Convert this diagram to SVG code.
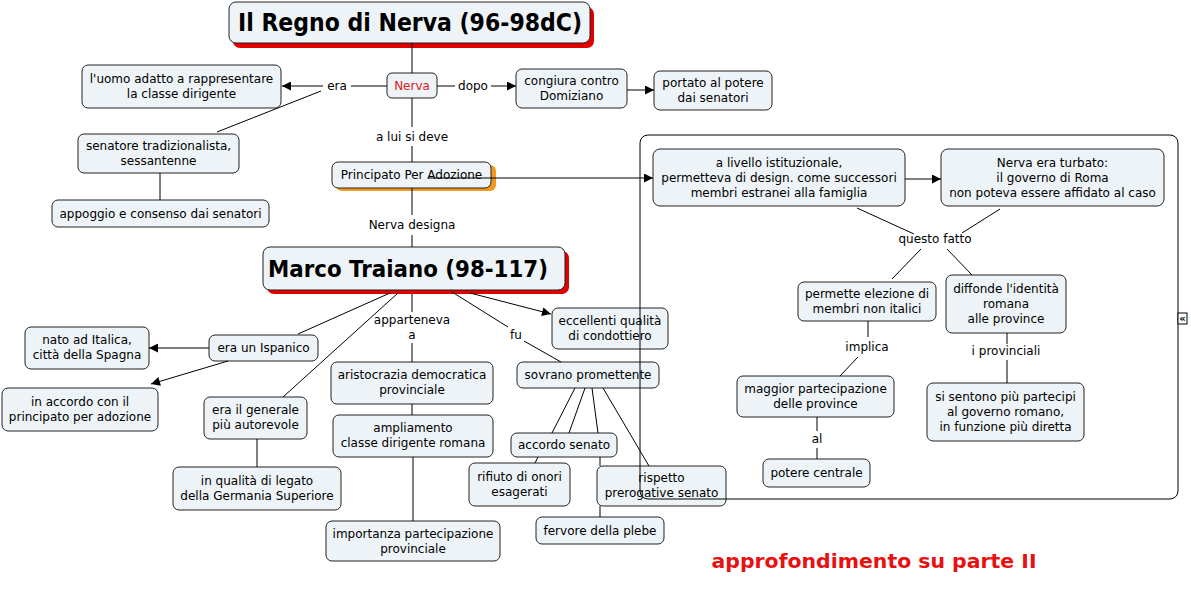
<svg xmlns="http://www.w3.org/2000/svg" width="1191" height="589" viewBox="0 0 1191 589">
<style>
.n{fill:#edf3f6;stroke:#222;stroke-width:1}
.t{font-family:"DejaVu Sans",Verdana,sans-serif;font-size:12px;fill:#000;text-anchor:middle}
.l{font-family:"DejaVu Sans",Verdana,sans-serif;font-size:12px;fill:#000;text-anchor:middle}
.c line,.c path{stroke:#000;stroke-width:1;fill:none}
.a{marker-end:url(#arr)}
.big{font-family:"DejaVu Sans",sans-serif;font-weight:bold;fill:#000;text-anchor:middle}
</style>
<defs>
<marker id="arr" viewBox="0 0 10 10" refX="10" refY="5" markerWidth="12" markerHeight="9" markerUnits="userSpaceOnUse" orient="auto"><path d="M0,0 L10,5 L0,10 z" fill="#000"/></marker>
</defs>
<rect width="1191" height="589" fill="#fff"/>

<g id="title">
<rect x="233" y="7" width="361" height="41" rx="7" fill="#e00000"/>
<rect class="n" x="229" y="2" width="361" height="41" rx="7"/>
<text class="big" x="410" y="31" font-size="25" textLength="344" lengthAdjust="spacingAndGlyphs">Il Regno di Nerva (96-98dC)</text>
</g>
<g id="nerva">
<rect class="n" x="387" y="73" width="50" height="25" rx="5"/>
<text class="t" x="412" y="90" style="fill:#e02020">Nerva</text>
</g>
<g id="uomo">
<rect class="n" x="82" y="65" width="199" height="43" rx="6"/>
<text class="t" x="181.5" y="83">l'uomo adatto a rappresentare</text>
<text class="t" x="181.5" y="98">la classe dirigente</text>
</g>
<g id="senatore">
<rect class="n" x="78" y="134" width="161" height="39" rx="6"/>
<text class="t" x="158.5" y="150">senatore tradizionalista,</text>
<text class="t" x="158.5" y="165">sessantenne</text>
</g>
<g id="appoggio">
<rect class="n" x="52" y="200" width="217" height="27" rx="6"/>
<text class="t" x="160.5" y="218">appoggio e consenso dai senatori</text>
</g>
<g id="congiura">
<rect class="n" x="516" y="69" width="111" height="39" rx="6"/>
<text class="t" x="571.5" y="85">congiura contro</text>
<text class="t" x="571.5" y="100">Domiziano</text>
</g>
<g id="portato">
<rect class="n" x="654" y="71" width="118" height="39" rx="6"/>
<text class="t" x="713" y="87">portato al potere</text>
<text class="t" x="713" y="102">dai senatori</text>
</g>
<g id="principato">
<rect x="336" y="165" width="160" height="26" rx="6" fill="#f39a1e"/>
<rect class="n" x="332" y="162" width="159" height="26" rx="6"/>
<text class="t" x="411.5" y="179">Principato Per Adozione</text>
</g>
<g id="traiano">
<rect x="267" y="251" width="302" height="43" rx="7" fill="#e00000"/>
<rect class="n" x="263" y="247" width="302" height="43" rx="7"/>
<text class="big" x="408" y="277" font-size="23" textLength="280" lengthAdjust="spacingAndGlyphs">Marco Traiano (98-117)</text>
</g>
<g id="livello">
<rect class="n" x="653" y="149" width="252" height="57" rx="7"/>
<text class="t" x="779" y="167">a livello istituzionale,</text>
<text class="t" x="779" y="182">permetteva di design. come successori</text>
<text class="t" x="779" y="197">membri estranei alla famiglia</text>
</g>
<g id="turbato">
<rect class="n" x="941" y="149" width="223" height="57" rx="7"/>
<text class="t" x="1052.5" y="167">Nerva era turbato:</text>
<text class="t" x="1052.5" y="182">il governo di Roma</text>
<text class="t" x="1052.5" y="197">non poteva essere affidato al caso</text>
</g>
<g id="permette">
<rect class="n" x="798" y="282" width="138" height="39" rx="6"/>
<text class="t" x="867" y="298">permette elezione di</text>
<text class="t" x="867" y="313">membri non italici</text>
</g>
<g id="diffonde">
<rect class="n" x="946" y="275" width="120" height="58" rx="6"/>
<text class="t" x="1006" y="293">diffonde l'identità</text>
<text class="t" x="1006" y="308">romana</text>
<text class="t" x="1006" y="323">alle province</text>
</g>
<g id="maggior">
<rect class="n" x="737" y="376" width="157" height="41" rx="6"/>
<text class="t" x="815.5" y="393">maggior partecipazione</text>
<text class="t" x="815.5" y="408">delle province</text>
</g>
<g id="potere">
<rect class="n" x="763" y="459" width="107" height="28" rx="6"/>
<text class="t" x="816.5" y="477">potere centrale</text>
</g>
<g id="sentono">
<rect class="n" x="927" y="383" width="157" height="58" rx="6"/>
<text class="t" x="1005.5" y="401">si sentono più partecipi</text>
<text class="t" x="1005.5" y="416">al governo romano,</text>
<text class="t" x="1005.5" y="431">in funzione più diretta</text>
</g>
<g id="ispanico">
<rect class="n" x="209" y="335" width="109" height="26" rx="6"/>
<text class="t" x="263.5" y="352">era un Ispanico</text>
</g>
<g id="nato">
<rect class="n" x="25" y="327" width="124" height="42" rx="6"/>
<text class="t" x="87" y="344">nato ad Italica,</text>
<text class="t" x="87" y="359">città della Spagna</text>
</g>
<g id="inaccordo">
<rect class="n" x="2" y="388" width="156" height="43" rx="6"/>
<text class="t" x="80" y="406">in accordo con il</text>
<text class="t" x="80" y="421">principato per adozione</text>
</g>
<g id="generale">
<rect class="n" x="204" y="397" width="103" height="42" rx="6"/>
<text class="t" x="255.5" y="414">era il generale</text>
<text class="t" x="255.5" y="429">più autorevole</text>
</g>
<g id="legato">
<rect class="n" x="173" y="467" width="168" height="43" rx="6"/>
<text class="t" x="257" y="485">in qualità di legato</text>
<text class="t" x="257" y="500">della Germania Superiore</text>
</g>
<g id="aristocrazia">
<rect class="n" x="331" y="362" width="162" height="42" rx="6"/>
<text class="t" x="412" y="379">aristocrazia democratica</text>
<text class="t" x="412" y="394">provinciale</text>
</g>
<g id="ampliamento">
<rect class="n" x="333" y="415" width="160" height="42" rx="6"/>
<text class="t" x="413" y="432">ampliamento</text>
<text class="t" x="413" y="447">classe dirigente romana</text>
</g>
<g id="importanza">
<rect class="n" x="326" y="521" width="174" height="40" rx="6"/>
<text class="t" x="413" y="538">importanza partecipazione</text>
<text class="t" x="413" y="553">provinciale</text>
</g>
<g id="eccellenti">
<rect class="n" x="552" y="308" width="116" height="41" rx="6"/>
<text class="t" x="610" y="325">eccellenti qualità</text>
<text class="t" x="610" y="340">di condottiero</text>
</g>
<g id="sovrano">
<rect class="n" x="517" y="362" width="142" height="26" rx="6"/>
<text class="t" x="588" y="379">sovrano promettente</text>
</g>
<g id="accordosenato">
<rect class="n" x="511" y="433" width="106" height="24" rx="6"/>
<text class="t" x="564" y="449">accordo senato</text>
</g>
<g id="rifiuto">
<rect class="n" x="469" y="463" width="101" height="43" rx="6"/>
<text class="t" x="519.5" y="481">rifiuto di onori</text>
<text class="t" x="519.5" y="496">esagerati</text>
</g>
<g id="rispetto">
<rect class="n" x="597" y="466" width="129" height="40" rx="6"/>
<text class="t" x="661.5" y="482">rispetto</text>
<text class="t" x="661.5" y="497">prerogative senato</text>
</g>
<g id="fervore">
<rect class="n" x="536" y="517" width="128" height="27" rx="6"/>
<text class="t" x="600" y="535">fervore della plebe</text>
</g>

<g class="c" id="connectors">
<line x1="412" y1="43" x2="412" y2="73"/>
<line x1="387" y1="86" x2="351" y2="86"/>
<text class="l" x="337" y="90">era</text>
<line class="a" x1="323" y1="86" x2="282" y2="86"/>
<line x1="321" y1="91" x2="217" y2="132"/>
<line x1="160" y1="173" x2="160" y2="200"/>
<line x1="437" y1="86" x2="455" y2="86"/>
<text class="l" x="473" y="90">dopo</text>
<line class="a" x1="491" y1="86" x2="516" y2="86"/>
<line class="a" x1="627" y1="90" x2="654" y2="90"/>
<line x1="412" y1="98" x2="412" y2="127"/>
<text class="l" x="412" y="141">a lui si deve</text>
<line x1="412" y1="146" x2="412" y2="162"/>
<line class="a" x1="429" y1="178" x2="653" y2="178"/>
<line x1="412" y1="188" x2="412" y2="215"/>
<text class="l" x="412" y="229">Nerva designa</text>
<line x1="412" y1="235" x2="412" y2="247"/>
<line x1="390" y1="293" x2="298" y2="334"/>
<line x1="398" y1="293" x2="283" y2="397"/>
<line x1="412" y1="294" x2="412" y2="312"/>
<text class="l" x="412" y="324">apparteneva</text>
<text class="l" x="412" y="339">a</text>
<line x1="412" y1="343" x2="412" y2="362"/>
<line x1="452" y1="292" x2="508" y2="327"/>
<text class="l" x="516" y="339">fu</text>
<line x1="524" y1="341" x2="561" y2="362"/>
<line class="a" x1="470" y1="293" x2="551" y2="314"/>
<line class="a" x1="209" y1="348" x2="149" y2="348"/>
<line class="a" x1="228" y1="361" x2="151" y2="384"/>
<line x1="257" y1="439" x2="257" y2="467"/>
<line x1="412" y1="404" x2="412" y2="415"/>
<line x1="413" y1="457" x2="413" y2="521"/>
<line x1="575" y1="388" x2="552" y2="433"/>
<line x1="538" y1="457" x2="535" y2="463"/>
<line x1="585" y1="388" x2="569" y2="433"/>
<line x1="592" y1="388" x2="598" y2="433"/>
<line x1="600" y1="457" x2="600" y2="466"/>
<line x1="600" y1="506" x2="600" y2="517"/>
<line x1="603" y1="388" x2="649" y2="466"/>
<line class="a" x1="905" y1="179" x2="941" y2="179"/>
<line x1="857" y1="208" x2="914" y2="234"/>
<line x1="1000" y1="209" x2="962" y2="233"/>
<text class="l" x="935" y="243">questo fatto</text>
<line x1="921" y1="249" x2="892" y2="279"/>
<line x1="947" y1="249" x2="972" y2="275"/>
<line x1="868" y1="321" x2="868" y2="337"/>
<text class="l" x="867" y="351">implica</text>
<line x1="858" y1="357" x2="840" y2="376"/>
<line x1="817" y1="417" x2="817" y2="431"/>
<text class="l" x="817" y="443">al</text>
<line x1="817" y1="448" x2="817" y2="459"/>
<line x1="1007" y1="333" x2="1007" y2="344"/>
<text class="l" x="1006" y="355">i provinciali</text>
<line x1="1007" y1="360" x2="1007" y2="383"/>
</g>

<g id="container">
<rect x="640" y="135" width="538" height="364" rx="8" fill="none" stroke="#000" stroke-width="1"/>
<rect x="1178" y="313" width="9" height="11" fill="#fff" stroke="#000" stroke-width="1"/>
<text x="1182.5" y="322" font-family="DejaVu Sans,sans-serif" font-size="10" font-weight="bold" text-anchor="middle">«</text>
</g>

<g id="approfondimento">
<text class="big" x="874" y="568" font-size="20" style="fill:#e81010" textLength="325" lengthAdjust="spacingAndGlyphs">approfondimento su parte II</text>
</g>
</svg>
